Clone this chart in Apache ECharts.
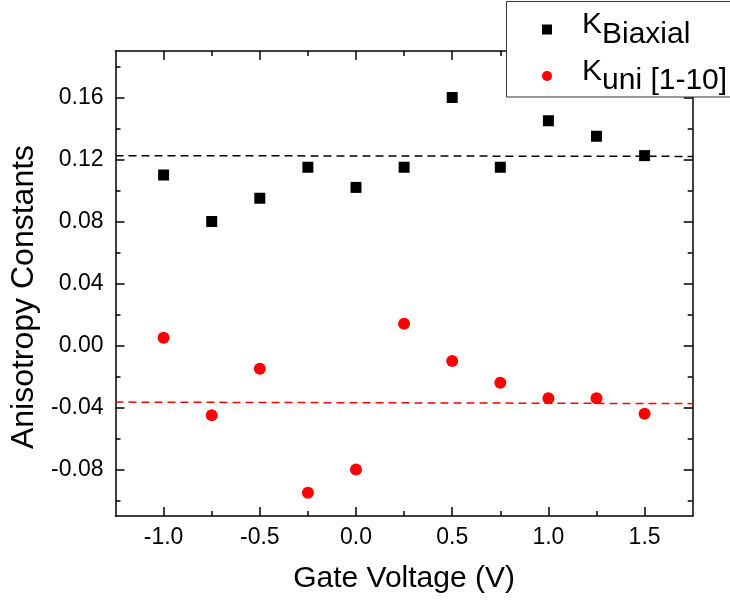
<!DOCTYPE html>
<html>
<head>
<meta charset="utf-8">
<script src="https://cdn.jsdelivr.net/npm/echarts@6/dist/echarts.min.js"></script>
<style>
html,body{margin:0;padding:0;background:#fff;}
#chart{width:730px;height:601px;}
</style>
</head>
<body>
<div id="chart"></div>
<script>
// gate voltage values (V)
var gateVoltage = [-1.0, -0.75, -0.5, -0.25, 0.0, 0.25, 0.5, 0.75, 1.0, 1.25, 1.5];
var kBiaxial = [0.110, 0.080, 0.095, 0.115, 0.102, 0.115, 0.160, 0.115, 0.145, 0.135, 0.1225];
var kUni = [0.005, -0.045, -0.015, -0.095, -0.080, 0.014, -0.010, -0.024, -0.034, -0.034, -0.044];
// dashed fit lines, value at the left and right ends of the x range
var fitX = [-1.25, 1.75];
var fitBiaxial = [0.1225, 0.1220];
var fitUni = [-0.0365, -0.0375];
var xMajor = [-1.0, -0.5, 0.0, 0.5, 1.0, 1.5];
var xMinor = [-0.75, -0.25, 0.25, 0.75, 1.25];
var yMajor = [-0.08, -0.04, 0.0, 0.04, 0.08, 0.12, 0.16];
var yMinor = [-0.10, -0.06, -0.02, 0.02, 0.06, 0.10, 0.14, 0.18];

function pairs(xs, ys){
	var out = [];
	for(var i=0;i<xs.length;i++){ out.push([xs[i], ys[i]]); }
	return out;
}

var font = 'Liberation Sans, Arial, sans-serif';
var xMin = -1.25, xMax = 1.75, yMin = -0.11, yMax = 0.19;

function makeX(pos, ticks, len, showLine, showLabel){
	return {
		type:'value', position:pos, min:xMin, max:xMax,
		axisLine:{show:showLine, onZero:false, lineStyle:{color:'#000', width:1.5}},
		axisTick:{show:true, inside:true, length:len, customValues:ticks, lineStyle:{color:'#000', width:1.5}},
		axisLabel:{show:showLabel, customValues:xMajor, margin:10, color:'#000', fontSize:23, fontFamily:font,
			formatter:function(v){ return v.toFixed(1); }},
		splitLine:{show:false}
	};
}
function makeY(pos, ticks, len, showLine, showLabel){
	return {
		type:'value', position:pos, min:yMin, max:yMax,
		axisLine:{show:showLine, onZero:false, lineStyle:{color:'#000', width:1.5}},
		axisTick:{show:true, inside:true, length:len, customValues:ticks, lineStyle:{color:'#000', width:1.5}},
		axisLabel:{show:showLabel, customValues:yMajor, margin:12, color:'#000', fontSize:23, fontFamily:font,
			formatter:function(v){ return v.toFixed(2); }},
		splitLine:{show:false}
	};
}

var xAxes = [makeX('bottom', xMajor, 9, true, true), makeX('bottom', xMinor, 5, false, false),
	makeX('top', xMajor, 9, true, false), makeX('top', xMinor, 5, false, false)];
xAxes[0].name = 'Gate Voltage (V)';
xAxes[0].nameLocation = 'middle';
xAxes[0].nameGap = 48;
xAxes[0].nameTextStyle = {color:'#000', fontSize:30, fontFamily:font};

var yAxes = [makeY('left', yMajor, 9, true, true), makeY('left', yMinor, 5, false, false),
	makeY('right', yMajor, 9, true, false), makeY('right', yMinor, 5, false, false)];
yAxes[0].name = 'Anisotropy Constants';
yAxes[0].nameLocation = 'middle';
yAxes[0].nameGap = 67;
yAxes[0].nameTextStyle = {color:'#000', fontSize:32, fontFamily:font, padding:[0,27,0,0]};

var chart = echarts.init(document.getElementById('chart'));
var option = {
	backgroundColor:'#fff',
	animation:false,
	grid:{left:115.5, right:37.3, top:51, bottom:85, containLabel:false},
	xAxis:xAxes,
	yAxis:yAxes,
	graphic:[{
		type:'rect', z:50,
		shape:{x:506.5, y:1.5, width:240, height:95.5},
		style:{fill:'#fff', stroke:'#333', lineWidth:1}
	}],
	legend:{
		z:60,
		orient:'vertical',
		left:542, top:10,
		padding:0,
		itemGap:7,
		itemWidth:10, itemHeight:10,
		data:[
			{name:'KBiaxial', icon:'rect'},
			{name:'Kuni', icon:'circle'}
		],
		formatter:function(name){
			if(name=='KBiaxial'){ return '{k|K}{s|Biaxial}'; }
			return '{k|K}{s|uni [1-10]}';
		},
		textStyle:{
			color:'#000', fontFamily:font,
			rich:{
				k:{fontSize:30, fontFamily:font, color:'#000', padding:[0,0,9,25], verticalAlign:'middle'},
				s:{fontSize:30, fontFamily:font, color:'#000', padding:[10,0,0,0], verticalAlign:'middle'}
			}
		}
	},
	series:[{
		name:'fitB', type:'line', data:pairs(fitX, fitBiaxial), showSymbol:false, symbol:'none',
		lineStyle:{color:'#000', width:1.5, type:[8,5]}, silent:true
	},{
		name:'fitU', type:'line', data:pairs(fitX, fitUni), showSymbol:false, symbol:'none',
		lineStyle:{color:'#ff0000', width:1.5, type:[8,5]}, silent:true
	},{
		name:'KBiaxial', type:'scatter', data:pairs(gateVoltage, kBiaxial),
		symbol:'rect', symbolSize:11, itemStyle:{color:'#000', opacity:1}
	},{
		name:'Kuni', type:'scatter', data:pairs(gateVoltage, kUni),
		symbol:'circle', symbolSize:12, itemStyle:{color:'#ff0000', opacity:1}
	}]
};
chart.setOption(option);
</script>
</body>
</html>
